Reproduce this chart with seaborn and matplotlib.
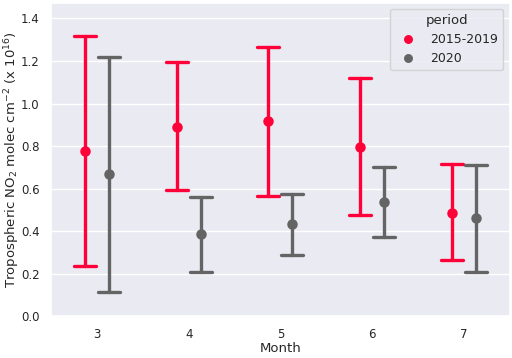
import numpy as np
import pandas as pd
from matplotlib import pyplot as plt
import seaborn as sns

months = [3, 4, 5, 6, 7]
periods = ["2015-2019", "2020"]
mean_base = [0.776, 0.892, 0.916, 0.796, 0.487]
lo_base = [0.236, 0.593, 0.565, 0.477, 0.264]
hi_base = [1.319, 1.195, 1.268, 1.118, 0.714]
mean_2020 = [0.668, 0.385, 0.432, 0.537, 0.461]
lo_2020 = [0.116, 0.207, 0.287, 0.374, 0.210]
hi_2020 = [1.220, 0.563, 0.573, 0.700, 0.712]

rows = []
for per, mn, lo, hi in [(periods[0], mean_base, lo_base, hi_base),
                        (periods[1], mean_2020, lo_2020, hi_2020)]:
    for i, m in enumerate(months):
        for v in (lo[i], mn[i], hi[i]):
            rows.append({"Month": m, "period": per, "value": v})
df = pd.DataFrame(rows)

sns.set_theme(style="darkgrid")
plt.figure(figsize=(5.12, 3.58), dpi=100)
ax = sns.pointplot(data=df, x="Month", y="value", hue="period",
                   palette=["#ff0038", "#646464"], estimator="median",
                   errorbar=lambda x: (x.min(), x.max()),
                   dodge=0.26, linestyle="none", capsize=0.24,
                   markersize=5.5, err_kws={"linewidth": 2.4})
ax.set_ylim(0, 1.475)
ax.set_ylabel("Tropospheric NO$_2$ molec cm$^{-2}$ (x 10$^{16}$)",
              fontsize=9.5, labelpad=-1)
ax.set_xlabel("Month", fontsize=9.5, labelpad=1)
ax.tick_params(labelsize=8.5, pad=2.5)
ax.legend(title="period", loc="upper right", fontsize=9,
          title_fontsize=9.5, markerscale=0.8)
plt.tight_layout(pad=0.15)
plt.savefig("out.png", dpi=100)
